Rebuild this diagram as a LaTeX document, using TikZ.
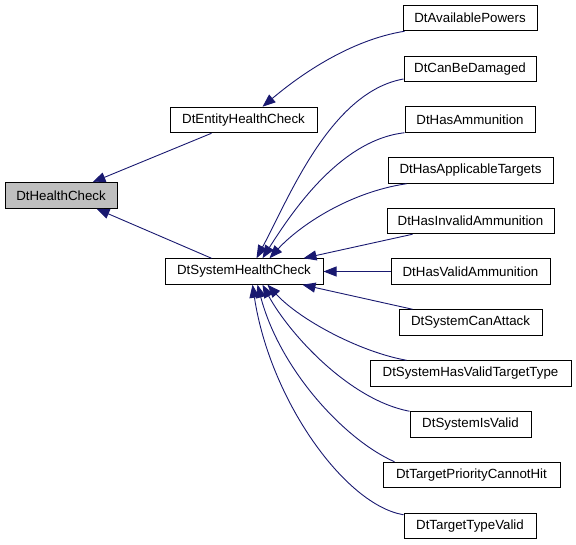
\documentclass[tikz,border=0pt]{standalone}
\usepackage{fontspec}
\setmainfont{Liberation Sans}
\usetikzlibrary{arrows.meta,calc}
\definecolor{edgeblue}{HTML}{191970}
\definecolor{boxgray}{HTML}{BFBFBF}
\begin{document}
\begin{tikzpicture}[x=1pt,y=-1pt,
  cls/.style={draw=black,line width=1pt,fill=white,inner sep=0pt,minimum height=25.5pt,
    font=\fontsize{13.3}{16}\selectfont},
  edge/.style={draw=edgeblue,line width=0.9pt,{Triangle[length=13pt,width=10pt]}-}]
\useasboundingbox (0,0) rectangle (576,544);
% nodes
\node[cls,fill=boxgray,minimum width=112pt] (HC) at (61,195.5) {DtHealthCheck};
\node[cls,minimum width=147pt] (EHC) at (243.5,120) {DtEntityHealthCheck};
\node[cls,minimum width=158pt] (SHC) at (244,271.5) {DtSystemHealthCheck};
\node[cls,minimum width=134pt] (AP) at (470,18) {DtAvailablePowers};
\node[cls,minimum width=132pt] (CBD) at (470,69) {DtCanBeDamaged};
\node[cls,minimum width=130pt] (HA) at (470,119.5) {DtHasAmmunition};
\node[cls,minimum width=165pt] (HAT) at (470.5,170.5) {DtHasApplicableTargets};
\node[cls,minimum width=167pt] (HIA) at (470.5,221) {DtHasInvalidAmmunition};
\node[cls,minimum width=159pt] (HVA) at (470.5,271.5) {DtHasValidAmmunition};
\node[cls,minimum width=143pt] (SCA) at (470.5,322.5) {DtSystemCanAttack};
\node[cls,minimum width=201pt] (SHVT) at (470.5,373.5) {DtSystemHasValidTargetType};
\node[cls,minimum width=121pt] (SIV) at (470.5,424.5) {DtSystemIsValid};
\node[cls,minimum width=177pt] (TPCH) at (471.5,475) {DtTargetPriorityCannotHit};
\node[cls,minimum width=132pt] (TTV) at (470,526) {DtTargetTypeValid};
% edges to DtHealthCheck
\draw[edge] ($(HC.north west)+(88,0)$) -- ($(EHC.south west)+(42,0)$);
\draw[edge] ($(HC.south west)+(92,0)$) -- ($(SHC.north west)+(47,0)$);
% edge to DtEntityHealthCheck
\draw[edge] ($(EHC.north west)+(93,0)$) .. controls (300,75) and (350,40) .. ($(AP.south west)+(2,0)$);
% edges to DtSystemHealthCheck (top)
\draw[edge] ($(SHC.north west)+(92,0)$) .. controls (288,200) and (330,92) .. ($(CBD.west)+(0,10)$);
\draw[edge] ($(SHC.north west)+(98,0)$) .. controls (292,212) and (340,140) .. (HA.south west);
\draw[edge] ($(SHC.north west)+(105,0)$) .. controls (300,225) and (350,192) .. ($(HAT.south west)+(19,0)$);
\draw[edge] ($(SHC.north west)+(139,0)$) -- ($(HIA.south west)+(26,0)$);
\draw[edge] (SHC.east) -- (HVA.west);
% edges to DtSystemHealthCheck (bottom)
\draw[edge] ($(SHC.south west)+(138,0)$) -- ($(SCA.north west)+(14,0)$);
\draw[edge] ($(SHC.south west)+(103,0)$) .. controls (300,320) and (360,352) .. ($(SHVT.north west)+(37,0)$);
\draw[edge] ($(SHC.south west)+(98,0)$) .. controls (290,335) and (350,400) .. (SIV.north west);
\draw[edge] ($(SHC.south west)+(93,0)$) .. controls (280,370) and (345,440) .. ($(TPCH.north west)+(12,0)$);
\draw[edge] ($(SHC.south west)+(88,0)$) .. controls (270,400) and (345,505) .. ($(TTV.north west)+(0,2)$);
\end{tikzpicture}
\end{document}
